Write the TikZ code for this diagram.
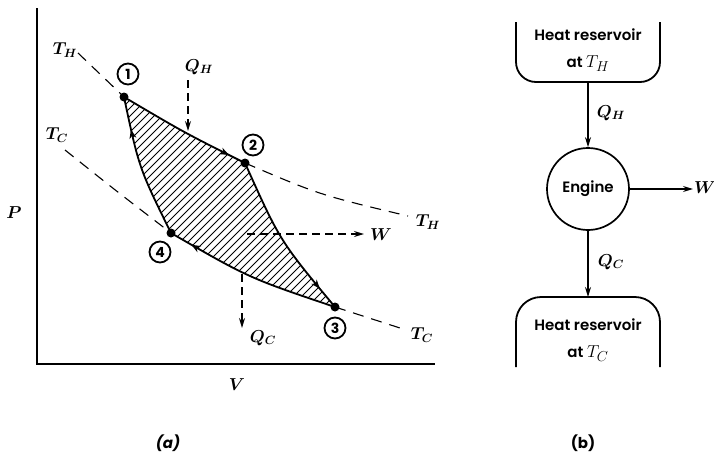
\documentclass[tikz,border=0pt]{standalone}
\usepackage{fontspec}
\IfFontExistsTF{Poppins SemiBold}{\newfontfamily\futura{Poppins SemiBold}}{\IfFontExistsTF{Poppins Medium}{\newfontfamily\futura{Poppins Medium}}{\newfontfamily\futura{Poppins}}}
\newfontfamily\futurab{Poppins}
\usetikzlibrary{arrows.meta,decorations.markings}
\begin{document}
\begin{tikzpicture}[x=1pt,y=-1pt,
  lab/.style={font=\fontsize{18}{20}\selectfont\boldmath, inner sep=0pt},
  num/.style={circle,draw,line width=1.8pt,minimum size=21pt,inner sep=0pt,font=\futurab\bfseries\fontsize{14}{15}\selectfont},
  dot/.style={circle,fill,inner sep=0pt,minimum size=9pt},
  iso/.style={line width=1.1pt,dash pattern=on 11pt off 8pt},
  cyc/.style={line width=1.8pt},
  midarrow/.style={postaction={decorate},decoration={markings,mark=at position #1 with {\arrow{Stealth[length=9pt,width=7pt]}}}},
  flow/.style={line width=1.3pt,dash pattern=on 8pt off 5pt,-{Stealth[length=10pt,width=6pt]}},
  box/.style={line width=1.8pt},
  sans/.style={font=\futura\fontsize{15}{27}\selectfont, align=center, inner sep=0pt},
  solidarrow/.style={line width=1.2pt,-{Stealth[length=10pt,width=6pt]}}
]
\useasboundingbox (0,0) rectangle (714,455);

% axes
\coordinate (ytop) at (37,8);
\coordinate (org) at (37,364);
\coordinate (xend) at (435,364);
\draw[line width=2pt] (ytop) -- (org) -- (xend);
\node[lab] (P) at (14,213) {$P$};
\node[lab] (V) at (237,385) {$V$};

% state points
\coordinate (p1) at (124,97);
\coordinate (p2) at (245,163);
\coordinate (p3) at (335,307);
\coordinate (p4) at (171,233);

% isotherms
\coordinate (th0) at (78,53);
\coordinate (th1) at (408,216);
\coordinate (tc0) at (65,150);
\coordinate (tc1) at (400,328);
\draw[iso] (th0) -- (p1);
\draw[iso] (p2) .. controls (320,195) .. (th1);
\draw[iso] (tc0) .. controls (115,190) .. (p4);
\draw[iso] (p3) -- (tc1);

% hatching
\begin{scope}
\clip (p1) .. controls (185,133) .. (p2) .. controls (280,241) .. (p3) .. controls (249,278) .. (p4) .. controls (139,168) .. (p1) -- cycle;
\foreach \s in {-140,-132,...,340} \draw[line width=0.8pt] (\s,330) -- ++(260,-260);
\end{scope}

% cycle
\draw[cyc,midarrow=0.87] (p1) .. controls (185,133) .. (p2);
\draw[cyc,midarrow=0.86] (p2) .. controls (280,241) .. (p3);
\draw[cyc,midarrow=0.87] (p3) .. controls (249,278) .. (p4);
\draw[cyc,midarrow=0.77] (p4) .. controls (139,168) .. (p1);
\node[dot] (d1) at (p1) {};
\node[dot] (d2) at (p2) {};
\node[dot] (d3) at (p3) {};
\node[dot] (d4) at (p4) {};
\node[num] (n1) at (128,74) {1};
\node[num] (n2) at (253,145) {2};
\node[num] (n3) at (335,328) {3};
\node[num] (n4) at (160,252) {4};

% heat and work flows
\coordinate (qhs) at (188,80);
\coordinate (qht) at (188,131);
\draw[flow] (qhs) -- (qht);
\coordinate (ws) at (247,234);
\coordinate (wt) at (364,234);
\draw[flow] (ws) -- (wt);
\coordinate (qcs) at (242,274);
\coordinate (qct) at (242,328);
\draw[flow] (qcs) -- (qct);

% labels
\node[lab] (lTH1) at (65,50) {$T_H$};
\node[lab] (lQH) at (199,67) {$Q_H$};
\node[lab] (lTC1) at (57,135) {$T_C$};
\node[lab] (lTH2) at (428,222) {$T_H$};
\node[lab] (lW) at (381,235) {$W$};
\node[lab] (lQC) at (263,338) {$Q_C$};
\node[lab] (lTC2) at (422,335) {$T_C$};
\node[font=\futurab\bfseries\itshape\fontsize{15}{16}\selectfont] (la) at (168,443) {(a)};

% (b) panel
\draw[box,rounded corners=20pt] (516,22) -- (516,82) -- (660,82) -- (660,22);
\draw[box,rounded corners=25pt] (516,367) -- (516,297) -- (660,297) -- (660,367);
\node[sans] (hot) at (588,50) {Heat reservoir\\at {\fontsize{19}{20}\selectfont$T_H$}};
\node[sans] (cold) at (588,340) {Heat reservoir\\at {\fontsize{19}{20}\selectfont$T_C$}};
\node[circle,draw,line width=1.7pt,minimum size=82pt,inner sep=0pt,font=\futura\fontsize{15}{18}\selectfont] (eng) at (588,189) {Engine};
\coordinate (hotb) at (588,82);
\coordinate (coldt) at (588,297);
\coordinate (wend) at (693,189);
\draw[solidarrow] (hotb) -- (eng.north);
\draw[solidarrow] (eng.south) -- (coldt);
\draw[solidarrow] (eng.east) -- (wend);
\node[lab] (rQH) at (611,113) {$Q_H$};
\node[lab] (rQC) at (611,262) {$Q_C$};
\node[lab] (rW) at (705,188) {$W$};
\node[font=\futurab\bfseries\fontsize{15}{16}\selectfont] (lb) at (583,443) {(b)};
\end{tikzpicture}
\end{document}
